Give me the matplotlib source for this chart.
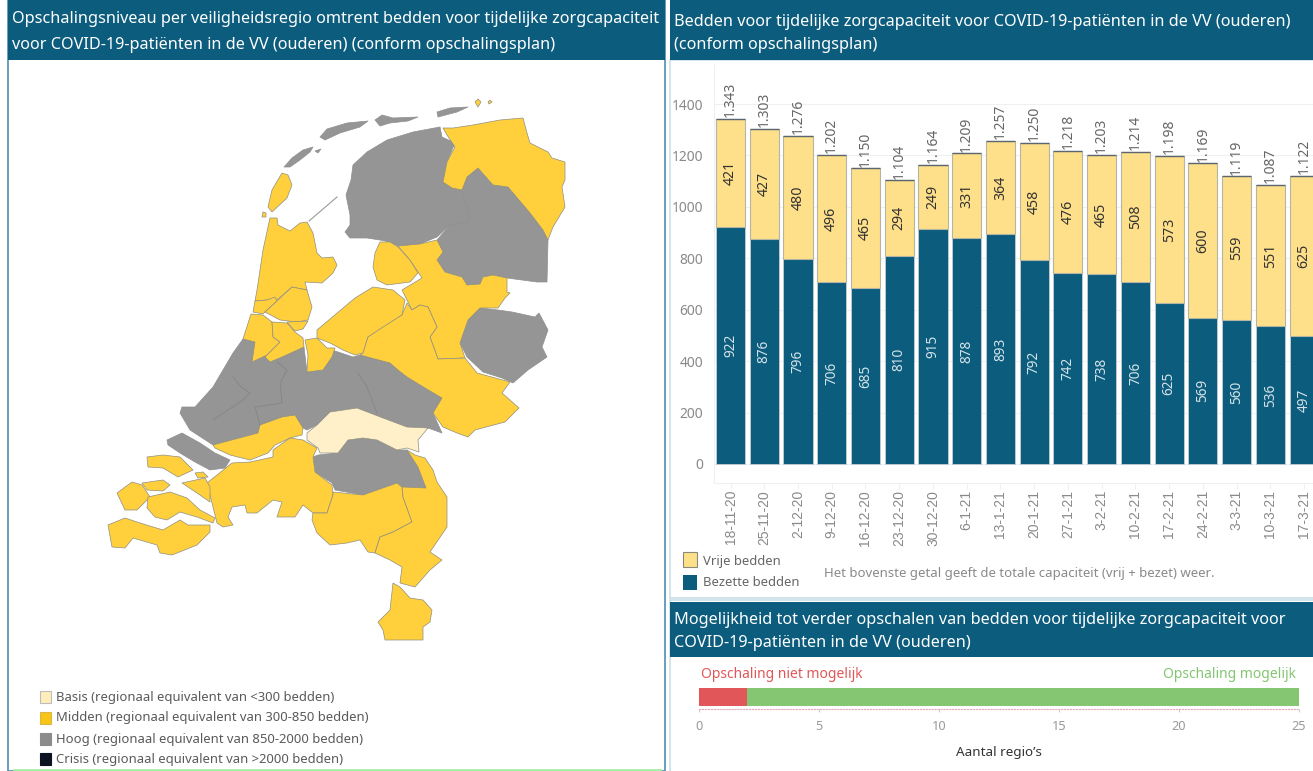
import matplotlib
matplotlib.use('Agg')
import matplotlib.pyplot as plt
from matplotlib.patches import Polygon, Rectangle

W, H = 1313, 771

dates = ['18-11-20', '25-11-20', '2-12-20', '9-12-20', '16-12-20', '23-12-20', '30-12-20', '6-1-21', '13-1-21',
         '20-1-21', '27-1-21', '3-2-21', '10-2-21', '17-2-21', '24-2-21', '3-3-21', '10-3-21', '17-3-21']
bezet = [922, 876, 796, 706, 685, 810, 915, 878, 893, 792, 742, 738, 706, 625, 569, 560, 536, 497]
vrij = [421, 427, 480, 496, 465, 294, 249, 331, 364, 458, 476, 465, 508, 573, 600, 559, 551, 625]
totaal = [1343, 1303, 1276, 1202, 1150, 1104, 1164, 1209, 1257, 1250, 1218, 1203, 1214, 1198, 1169, 1119, 1087, 1122]

regio_niet = 2
regio_wel = 23

# map outlines (pixel coordinates)
hoog = [
    [(284, 167), (292, 158), (303, 150), (313, 147), (310, 152), (300, 160), (290, 167)],
    [(315, 151), (321, 149), (318, 153)],
    [(320, 137), (327, 129), (347, 123), (368, 121), (360, 127), (340, 133), (325, 140)],
    [(375, 120), (382, 115), (393, 118), (418, 117), (408, 121), (390, 123), (380, 126)],
    [(437, 112), (450, 108), (468, 107), (457, 112), (438, 117)],
    [(440, 127), (442, 137), (455, 143), (447, 162), (443, 182), (462, 190), (470, 215), (467, 222), (450, 225),
     (437, 237), (420, 244), (398, 246), (390, 242), (380, 240), (367, 238), (350, 238), (345, 232), (350, 225),
     (350, 215), (346, 195), (351, 180), (353, 165), (367, 152), (387, 140), (413, 132)],
    [(478, 168), (493, 185), (508, 187), (530, 213), (543, 230), (548, 240), (547, 282), (537, 282), (507, 278),
     (493, 275), (483, 277), (480, 284), (467, 285), (462, 277), (445, 272), (437, 260), (443, 252), (437, 240),
     (450, 225), (467, 222), (470, 215), (462, 190), (467, 177)],
    [(468, 320), (480, 308), (498, 310), (512, 312), (535, 317), (539, 313), (548, 330), (542, 347), (547, 357),
     (528, 370), (513, 383), (502, 378), (483, 372), (467, 357), (460, 343)],
    [(243, 339), (255, 342), (252, 362), (267, 355), (270, 362), (282, 357), (304, 347), (307, 372), (323, 370),
     (332, 350), (353, 357), (360, 355), (390, 363), (398, 370), (407, 377), (425, 388), (442, 398), (433, 413),
     (442, 433), (428, 428), (407, 427), (383, 418), (357, 408), (330, 412), (317, 425), (307, 430), (303, 428),
     (295, 415), (282, 417), (260, 425), (258, 433), (213, 445), (190, 430), (180, 413), (182, 407), (195, 407),
     (213, 387), (233, 353)],
    [(167, 440), (182, 433), (200, 443), (215, 453), (230, 460), (225, 468), (210, 470), (195, 462), (180, 453),
     (168, 445)],
    [(318, 455), (338, 453), (348, 440), (363, 438), (377, 440), (397, 450), (407, 450), (418, 467), (426, 488),
     (402, 487), (397, 483), (363, 495), (335, 490), (332, 483), (315, 472), (313, 457)],
]
midden = [
    [(475, 102), (478, 99), (481, 102), (478, 107)],
    [(488, 102), (490, 100), (492, 102), (489, 104)],
    [(443, 128), (453, 128), (473, 125), (500, 120), (523, 118), (527, 133), (530, 143), (548, 152), (552, 158),
     (565, 162), (565, 180), (562, 187), (565, 207), (553, 227), (548, 240), (543, 230), (530, 213), (508, 187),
     (493, 185), (478, 168), (467, 177), (462, 190), (452, 188), (443, 182), (447, 162), (455, 147), (447, 135)],
    [(270, 218), (277, 218), (278, 225), (290, 231), (300, 223), (307, 222), (313, 233), (317, 253), (322, 258),
     (333, 257), (337, 265), (333, 273), (322, 283), (305, 282), (307, 290), (292, 287), (277, 300), (267, 300),
     (255, 301), (257, 290), (263, 250)],
    [(282, 173), (288, 175), (292, 185), (287, 198), (272, 212), (268, 207), (272, 190)],
    [(263, 212), (266, 213), (266, 217), (262, 217)],
    [(255, 301), (267, 300), (275, 297), (277, 301), (267, 310), (263, 314), (253, 312)],
    [(277, 301), (292, 287), (307, 290), (312, 307), (308, 320), (297, 322), (280, 320), (265, 312)],
    [(287, 322), (308, 321), (303, 329), (295, 331)],
    [(251, 314), (263, 315), (272, 322), (273, 337), (280, 342), (267, 355), (252, 362), (255, 342), (243, 339)],
    [(272, 322), (287, 323), (295, 332), (303, 338), (304, 347), (282, 357), (270, 362), (265, 357), (280, 342),
     (273, 337)],
    [(305, 340), (317, 338), (327, 348), (335, 348), (332, 357), (323, 370), (307, 372), (308, 355)],
    [(317, 330), (355, 298), (373, 287), (393, 290), (405, 300), (402, 315), (380, 330), (368, 337), (363, 353),
     (355, 355), (343, 350), (330, 343), (317, 338)],
    [(380, 242), (390, 242), (398, 247), (410, 260), (418, 273), (410, 282), (387, 285), (377, 280), (373, 267),
     (375, 253)],
    [(398, 246), (420, 244), (437, 240), (443, 252), (437, 260), (445, 272), (462, 277), (467, 285), (480, 284),
     (483, 277), (493, 275), (507, 278), (507, 292), (510, 293), (505, 298), (498, 308), (480, 308), (468, 320),
     (460, 343), (465, 358), (438, 359), (430, 337), (437, 327), (428, 307), (420, 305), (412, 310), (402, 290),
     (422, 278), (410, 260)],
    [(407, 303), (412, 310), (420, 305), (428, 307), (437, 327), (430, 337), (438, 359), (465, 358), (477, 373),
     (510, 382), (502, 393), (519, 408), (505, 422), (475, 430), (468, 437), (457, 433), (443, 427), (433, 413),
     (442, 398), (425, 388), (407, 377), (398, 370), (390, 363), (360, 355), (363, 353), (368, 337), (383, 327),
     (402, 315)],
    [(213, 445), (258, 433), (260, 425), (282, 417), (295, 415), (303, 428), (302, 435), (290, 438), (275, 445),
     (268, 453), (250, 460), (230, 455), (215, 448)],
    [(273, 450), (290, 438), (303, 440), (317, 448), (313, 457), (315, 472), (332, 485), (333, 495), (327, 513),
     (313, 513), (303, 505), (295, 517), (277, 517), (282, 502), (273, 500), (257, 513), (247, 513), (245, 505),
     (232, 507), (228, 517), (233, 525), (223, 527), (217, 523), (207, 483), (232, 463), (250, 462), (273, 457)],
    [(333, 492), (363, 495), (397, 483), (402, 487), (403, 497), (412, 522), (393, 532), (380, 537), (375, 553),
     (368, 552), (360, 540), (347, 543), (330, 545), (317, 533), (312, 520), (313, 513), (327, 513), (333, 495)],
    [(407, 450), (415, 455), (425, 458), (433, 470), (437, 482), (447, 497), (447, 527), (430, 552), (442, 560),
     (430, 570), (415, 587), (400, 583), (402, 567), (390, 560), (375, 553), (380, 537), (393, 532), (412, 522),
     (403, 497), (402, 487), (426, 488), (418, 467)],
    [(393, 583), (400, 587), (410, 598), (423, 600), (432, 610), (430, 622), (423, 627), (423, 640), (385, 640),
     (383, 630), (378, 622), (390, 610)],
    [(147, 457), (163, 455), (180, 457), (193, 470), (178, 477), (163, 468), (148, 467)],
    [(195, 473), (203, 472), (208, 477), (198, 478)],
    [(142, 483), (163, 480), (170, 485), (163, 491), (147, 490)],
    [(117, 493), (132, 482), (142, 485), (150, 497), (137, 510), (125, 510)],
    [(148, 497), (170, 492), (187, 498), (200, 510), (215, 518), (213, 523), (197, 517), (180, 512), (167, 520),
     (155, 517), (147, 508)],
    [(182, 483), (205, 478), (210, 487), (210, 502), (197, 493)],
    [(108, 525), (125, 518), (140, 523), (163, 530), (180, 520), (188, 525), (210, 525), (210, 532), (197, 545),
     (172, 555), (160, 553), (157, 545), (133, 538), (125, 548), (112, 547)],
]
basis = [
    [(307, 433), (317, 425), (330, 412), (357, 408), (383, 418), (407, 427), (428, 428), (418, 440), (419, 452),
     (407, 448), (397, 450), (377, 440), (363, 438), (348, 440), (338, 453), (320, 453), (318, 448), (307, 440)],
]
# inner region borders in the grey band
grenzen = [
    [(233, 377), (241, 387), (250, 393), (243, 400), (213, 420)],
    [(277, 362), (287, 370), (280, 383), (282, 403), (255, 407), (260, 425)],
    [(358, 373), (367, 387), (377, 413)],
]

donker = '#0b5c7d'
plt.rcParams['font.family'] = ['Noto Sans', 'DejaVu Sans']


def pos(left, top, right, bottom):
    return [left / W, 1 - bottom / H, (right - left) / W, (bottom - top) / H]


fig = plt.figure(figsize=(W / 100, H / 100), dpi=100)
bg = fig.add_axes([0, 0, 1, 1])
bg.set_xlim(0, W)
bg.set_ylim(H, 0)
bg.axis('off')

# panels
bg.add_patch(Rectangle((8, 0), 657, H, fc='white', ec='#4f8fae', lw=1.2))
bg.add_patch(Rectangle((670, 60), 660, 538, fc='white', ec='#c9e0e8', lw=1.2))
bg.add_patch(Rectangle((670, 600), 660, 190, fc='white', ec='#c9e0e8', lw=1.2))
bg.add_patch(Rectangle((8, 0), 657, 60, fc=donker, ec='none'))
bg.add_patch(Rectangle((670, 0), 643, 60, fc=donker, ec='none'))
bg.add_patch(Rectangle((670, 602), 643, 55, fc=donker, ec='none'))
bg.plot([14, 660], [770, 770], color='#a4efa6', lw=2)

koppen = [
    (12, 19, 'Opschalingsniveau per veiligheidsregio omtrent bedden voor tijdelijke zorgcapaciteit'),
    (12, 45, 'voor COVID-19-patiënten in de VV (ouderen) (conform opschalingsplan)'),
    (674, 22, 'Bedden voor tijdelijke zorgcapaciteit voor COVID-19-patiënten in de VV (ouderen)'),
    (674, 45, '(conform opschalingsplan)'),
    (674, 620, 'Mogelijkheid tot verder opschalen van bedden voor tijdelijke zorgcapaciteit voor'),
    (674, 643, 'COVID-19-patiënten in de VV (ouderen)'),
]
for x, y, s in koppen:
    bg.text(x, y, s, color='white', fontsize=11.7, va='center', ha='left')

# map
for vormen, kleur in [(hoog, '#959595'), (midden, '#ffcf3c'), (basis, '#fff0c9')]:
    rand = '#8f8f8f' if kleur == '#959595' else '#8f8f80'
    for v in vormen:
        bg.add_patch(Polygon(v, closed=True, fc=kleur, ec=rand, lw=0.5, joinstyle='round'))
for g in grenzen:
    bg.plot([p[0] for p in g], [p[1] for p in g], color='#858585', lw=0.6)
bg.plot([309, 337], [221, 197], color='#9a9a9a', lw=0.8)

# map legend
legenda = [
    ('Basis (regionaal equivalent van <300 bedden)', '#ffeeb8', '#bdbdbd', 697),
    ('Midden (regionaal equivalent van 300-850 bedden)', '#f7c514', '#d9b84a', 718),
    ('Hoog (regionaal equivalent van 850-2000 bedden)', '#8c8c8c', '#8c8c8c', 739),
    ('Crisis (regionaal equivalent van >2000 bedden)', '#0b1222', '#0b1222', 759),
]
for s, fc, ec, y in legenda:
    bg.add_patch(Rectangle((40, y - 6), 11, 12, fc=fc, ec=ec, lw=0.8))
    bg.text(56, y, s, color='#5a5a5a', fontsize=9.4, va='center', ha='left')

# bar chart
ax = fig.add_axes(pos(714, 65, 1313, 483))
x = range(len(dates))
ax.bar(x, bezet, width=0.86, color=donker, edgecolor='#c4ced2', linewidth=0.6, zorder=3)
ax.bar(x, vrij, width=0.86, bottom=bezet, color='#ffe08a', edgecolor='#b5b5a5', linewidth=0.8, zorder=3)
ax.hlines(totaal, [i - 0.43 for i in x], [i + 0.43 for i in x], color='#5b6670', lw=1, zorder=4)
for i in x:
    ax.text(i, bezet[i] / 2, str(bezet[i]), rotation=90, ha='center', va='center', fontsize=9.8,
            color='#d5e3e9', zorder=4)
    ax.text(i, bezet[i] + vrij[i] / 2, str(vrij[i]), rotation=90, ha='center', va='center', fontsize=10.2,
            color='#333333', zorder=4)
    ax.text(i, totaal[i] + 6, f'{totaal[i]:,}'.replace(',', '.'), rotation=90, ha='center', va='bottom',
            fontsize=10, color='#666666', zorder=4)
ax.set_xlim(-0.489, 17.26)
ax.set_ylim(-74, 1552)
ax.set_yticks(range(0, 1401, 200))
ax.set_xticks(list(x))
ax.set_xticklabels(dates, rotation=90, family='Liberation Sans', fontsize=10, color='#8a8a8a')
ax.tick_params(axis='y', length=0, labelsize=10, labelcolor='#8a8a8a', pad=8)
ax.tick_params(axis='x', length=4, color='#f0f0f0', pad=1)
ax.grid(axis='y', color='#eef1f3', lw=0.8, zorder=0)
for k in ['top', 'right']:
    ax.spines[k].set_visible(False)
ax.spines['left'].set_color('#eef1f3')
ax.spines['bottom'].set_color('#eef1f3')

# bar legend + note
bg.add_patch(Rectangle((683, 552), 14, 15, fc='#ffe08a', ec='#8a8a7a', lw=0.8))
bg.add_patch(Rectangle((683, 575), 14, 15, fc=donker, ec='none'))
bg.text(703, 561, 'Vrije bedden', color='#666666', fontsize=9.4, va='center')
bg.text(703, 582, 'Bezette bedden', color='#666666', fontsize=9.4, va='center')
bg.text(824, 574, 'Het bovenste getal geeft de totale capaciteit (vrij + bezet) weer.', color='#8a8a8a',
        fontsize=9.5, va='center')

# stacked bar bottom right
ax2 = fig.add_axes(pos(699, 684, 1299, 709))
ax2.barh([0], [regio_niet], color='#e15759', height=0.72)
ax2.barh([0], [regio_wel], left=[regio_niet], color='#84c672', height=0.72)
ax2.set_xlim(0, 25)
ax2.set_ylim(-0.5, 0.5)
ax2.set_yticks([])
ax2.set_xticks(range(0, 26, 5))
ax2.tick_params(axis='x', length=2, color='#cccccc', labelsize=9.2, labelcolor='#999999', pad=6)
ax2.set_xlabel('Aantal regio\u2019s', fontsize=9.7, color='#333333', labelpad=9)
for k in ['top', 'right', 'left']:
    ax2.spines[k].set_visible(False)
ax2.spines['bottom'].set_color('#e3a9b8')
ax2.spines['bottom'].set_linestyle(':')
bg.text(701, 674, 'Opschaling niet mogelijk', color='#e15759', fontsize=10, va='center')
bg.text(1296, 674, 'Opschaling mogelijk', color='#84c672', fontsize=10, va='center', ha='right')

fig.savefig('out.png', dpi=100)
